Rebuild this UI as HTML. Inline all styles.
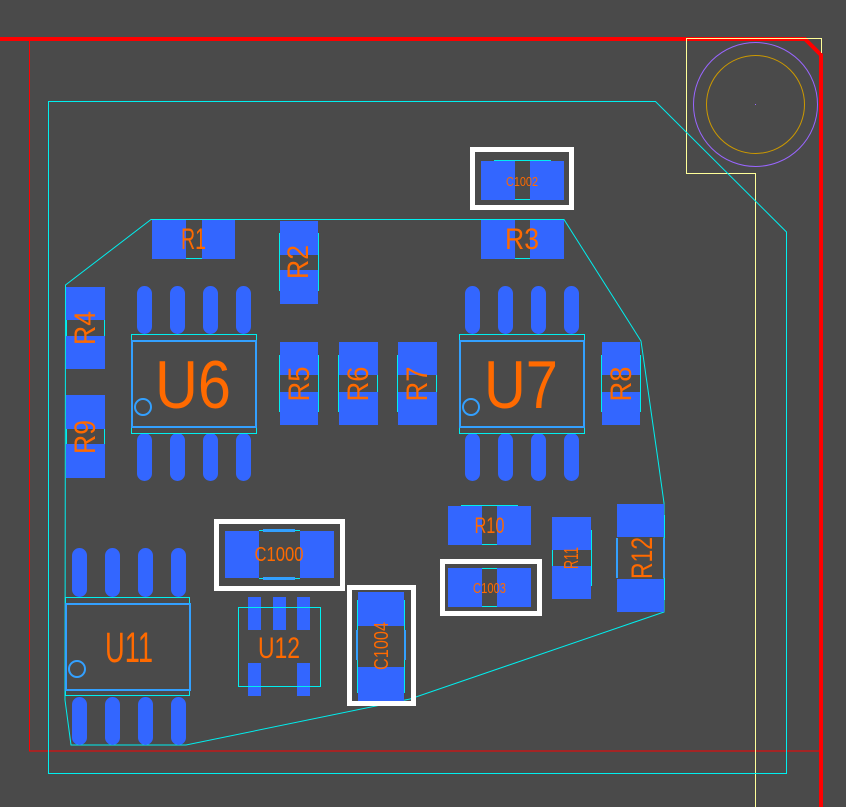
<!DOCTYPE html>
<html><head><meta charset="utf-8"><style>
html,body{margin:0;padding:0;background:#4a4a4a;}
svg{display:block;}
text{font-family:"Liberation Sans",sans-serif;fill:#ff6a00;}
</style></head><body>
<svg width="846" height="807" viewBox="0 0 846 807" xmlns="http://www.w3.org/2000/svg">
<rect width="846" height="807" fill="#4a4a4a"/>
<!-- thin red -->
<polyline points="29.5,41 29.5,751 820,751" fill="none" stroke="#ff0000" stroke-width="1"/>
<!-- thick red board edge -->
<polyline points="0,39 805,39 821,55 821,807" fill="none" stroke="#ff0000" stroke-width="4"/>
<!-- yellow -->
<polyline points="755.5,807 755.5,173.5 686.5,173.5 686.5,38.5 821.5,38.5 821.5,53" fill="none" stroke="#ffff99" stroke-width="1"/>
<circle cx="755.5" cy="104.5" r="62" fill="none" stroke="#9966ff" stroke-width="1"/>
<circle cx="755.5" cy="104.5" r="49" fill="none" stroke="#cc9900" stroke-width="1"/>
<rect x="755" y="104" width="1" height="1" fill="#9966ff"/>
<!-- outer cyan -->
<polygon points="48.5,101.5 655.5,101.5 786.5,232 786.5,773.5 48.5,773.5" fill="none" stroke="#00eeee" stroke-width="1"/>
<!-- inner cyan polygon -->
<polygon points="151,219.5 564,219.5 641,341 658,460 664,503 664,612 410,699 186,745 71,745 65,700 65.5,285" fill="none" stroke="#00eeee" stroke-width="1"/>

<g fill="#3366ff">
<!-- C1002 -->
<rect x="481" y="161" width="34" height="39"/><rect x="530" y="161" width="34" height="39"/>
<!-- R1 -->
<rect x="152" y="220" width="34" height="39"/><rect x="202" y="220" width="33" height="39"/>
<!-- R3 -->
<rect x="481" y="220" width="34" height="39"/><rect x="530" y="220" width="34" height="39"/>
<!-- R2 -->
<rect x="280" y="221" width="38" height="34"/><rect x="280" y="270" width="38" height="34"/>
<!-- R4 -->
<rect x="66" y="287" width="39" height="33"/><rect x="66" y="336" width="39" height="33"/>
<!-- R9 -->
<rect x="66" y="395" width="39" height="34"/><rect x="66" y="444" width="39" height="34"/>
<!-- R5 R6 R7 R8 -->
<rect x="280" y="342" width="38" height="33"/><rect x="280" y="392" width="38" height="33"/>
<rect x="339" y="342" width="39" height="33"/><rect x="339" y="392" width="39" height="33"/>
<rect x="398" y="342" width="39" height="33"/><rect x="398" y="392" width="39" height="33"/>
<rect x="602" y="342" width="38" height="33"/><rect x="602" y="392" width="38" height="33"/>
<!-- U6 pads -->
<rect x="137" y="286" width="15" height="48" rx="7.5"/><rect x="170" y="286" width="15" height="48" rx="7.5"/><rect x="203" y="286" width="15" height="48" rx="7.5"/><rect x="236" y="286" width="15" height="48" rx="7.5"/>
<rect x="137" y="433" width="15" height="48" rx="7.5"/><rect x="170" y="433" width="15" height="48" rx="7.5"/><rect x="203" y="433" width="15" height="48" rx="7.5"/><rect x="236" y="433" width="15" height="48" rx="7.5"/>
<!-- U7 pads -->
<rect x="465" y="286" width="15" height="48" rx="7.5"/><rect x="498" y="286" width="15" height="48" rx="7.5"/><rect x="531" y="286" width="15" height="48" rx="7.5"/><rect x="564" y="286" width="15" height="48" rx="7.5"/>
<rect x="465" y="433" width="15" height="48" rx="7.5"/><rect x="498" y="433" width="15" height="48" rx="7.5"/><rect x="531" y="433" width="15" height="48" rx="7.5"/><rect x="564" y="433" width="15" height="48" rx="7.5"/>
<!-- R10 -->
<rect x="448" y="506" width="34" height="39"/><rect x="497" y="506" width="34" height="39"/>
<!-- C1003 -->
<rect x="448" y="568" width="34" height="39"/><rect x="497" y="568" width="34" height="39"/>
<!-- R11 -->
<rect x="552" y="517" width="39" height="33"/><rect x="552" y="566" width="39" height="33"/>
<!-- R12 -->
<rect x="617" y="504" width="47" height="33"/><rect x="617" y="579" width="47" height="33"/>
<!-- C1000 -->
<rect x="225" y="531" width="34" height="47"/><rect x="300" y="531" width="34" height="47"/>
<!-- C1004 -->
<rect x="358" y="592" width="46" height="34"/><rect x="358" y="667" width="46" height="34"/>
<!-- U11 pads -->
<rect x="72" y="548" width="15" height="49" rx="7.5"/><rect x="105" y="548" width="15" height="49" rx="7.5"/><rect x="138" y="548" width="15" height="49" rx="7.5"/><rect x="171" y="548" width="15" height="49" rx="7.5"/>
<rect x="72" y="697" width="15" height="48" rx="7.5"/><rect x="105" y="697" width="15" height="48" rx="7.5"/><rect x="138" y="697" width="15" height="48" rx="7.5"/><rect x="171" y="697" width="15" height="48" rx="7.5"/>
<!-- U12 pads -->
<rect x="248" y="597" width="13" height="33"/><rect x="273" y="597" width="13" height="33"/><rect x="297" y="597" width="13" height="33"/>
<rect x="248" y="663" width="13" height="33"/><rect x="297" y="663" width="13" height="33"/>
</g>

<!-- cyan component outlines -->
<g fill="none" stroke="#00eeee" stroke-width="1">
<line x1="186" y1="258.5" x2="202" y2="258.5"/>
<line x1="515" y1="258.5" x2="530" y2="258.5"/>
<line x1="494" y1="160.5" x2="551" y2="160.5"/><line x1="515" y1="199.5" x2="530" y2="199.5"/>
<line x1="279.5" y1="233" x2="279.5" y2="291"/><line x1="318.5" y1="233" x2="318.5" y2="291"/>
<line x1="66.5" y1="320" x2="66.5" y2="336"/><line x1="104.5" y1="320" x2="104.5" y2="336"/>
<line x1="66.5" y1="429" x2="66.5" y2="444"/><line x1="104.5" y1="429" x2="104.5" y2="444"/>
<line x1="279.5" y1="355" x2="279.5" y2="412"/><line x1="318.5" y1="355" x2="318.5" y2="412"/>
<line x1="338.5" y1="355" x2="338.5" y2="412"/><line x1="377.5" y1="375" x2="377.5" y2="392"/>
<line x1="397.5" y1="355" x2="397.5" y2="412"/><line x1="436.5" y1="375" x2="436.5" y2="392"/>
<line x1="601.5" y1="355" x2="601.5" y2="412"/><line x1="640.5" y1="355" x2="640.5" y2="412"/>
<rect x="131.5" y="334.5" width="125" height="99"/>
<rect x="459.5" y="334.5" width="125" height="99"/>
<line x1="461" y1="505.5" x2="518" y2="505.5"/><line x1="482" y1="544.5" x2="497" y2="544.5"/>
<line x1="482" y1="568.5" x2="497" y2="568.5"/><line x1="482" y1="606.5" x2="497" y2="606.5"/>
<line x1="591.5" y1="530" x2="591.5" y2="586"/><line x1="552.5" y1="550" x2="552.5" y2="566"/>
<line x1="664.5" y1="515" x2="664.5" y2="600"/>
<rect x="65.5" y="597.5" width="124" height="98"/>
<rect x="238.5" y="607.5" width="82" height="79"/>
<line x1="357.5" y1="600" x2="357.5" y2="693"/><line x1="404.5" y1="600" x2="404.5" y2="693"/>
<line x1="259" y1="530.5" x2="300" y2="530.5"/><line x1="259" y1="578.5" x2="300" y2="578.5"/>
</g>
<g fill="#33a0ff">
<rect x="263" y="529" width="32" height="3"/><rect x="263" y="577" width="32" height="3"/>
<rect x="356" y="630" width="2" height="30"/><rect x="404" y="630" width="2" height="30"/>
<rect x="616" y="538" width="2" height="40"/><rect x="663" y="538" width="2" height="40"/>
</g>
<!-- blue body outlines -->
<g fill="none" stroke="#33a0ff" stroke-width="2">
<rect x="132" y="341" width="124" height="86"/>
<rect x="460" y="341" width="124" height="86"/>
<rect x="66" y="604" width="124" height="86"/>
<circle cx="143" cy="407" r="8"/>
<circle cx="471" cy="407" r="8"/>
<circle cx="77" cy="669" r="8"/>
</g>
<!-- white highlight boxes -->
<g fill="none" stroke="#ffffff" stroke-width="5">
<rect x="472.5" y="149.5" width="99" height="58"/>
<rect x="216.5" y="521.5" width="126" height="67"/>
<rect x="349.5" y="587.5" width="64" height="116"/>
<rect x="442.5" y="561.5" width="97" height="52"/>
</g>

<!-- labels -->
<text x="193.5" y="249" font-size="30" text-anchor="middle" textLength="25" lengthAdjust="spacingAndGlyphs">R1</text>
<text x="522" y="249" font-size="30" text-anchor="middle" textLength="34" lengthAdjust="spacingAndGlyphs">R3</text>
<text x="522" y="186" font-size="13" text-anchor="middle" textLength="32" lengthAdjust="spacingAndGlyphs">C1002</text>
<text x="193" y="408" font-size="68" text-anchor="middle" textLength="76" lengthAdjust="spacingAndGlyphs">U6</text>
<text x="521" y="408" font-size="68" text-anchor="middle" textLength="74" lengthAdjust="spacingAndGlyphs">U7</text>
<text x="129" y="662" font-size="43" text-anchor="middle" textLength="48" lengthAdjust="spacingAndGlyphs">U11</text>
<text x="279" y="658" font-size="30" text-anchor="middle" textLength="42" lengthAdjust="spacingAndGlyphs">U12</text>
<text x="279" y="561" font-size="20" text-anchor="middle" textLength="49" lengthAdjust="spacingAndGlyphs">C1000</text>
<text x="489.5" y="533" font-size="22" text-anchor="middle" textLength="30" lengthAdjust="spacingAndGlyphs">R10</text>
<text x="489.5" y="593" font-size="15" text-anchor="middle" textLength="33" lengthAdjust="spacingAndGlyphs">C1003</text>
<g>
<text transform="translate(308,262) rotate(-90)" font-size="30" text-anchor="middle" textLength="34" lengthAdjust="spacingAndGlyphs">R2</text>
<text transform="translate(95,328) rotate(-90)" font-size="30" text-anchor="middle" textLength="34" lengthAdjust="spacingAndGlyphs">R4</text>
<text transform="translate(95,437) rotate(-90)" font-size="30" text-anchor="middle" textLength="34" lengthAdjust="spacingAndGlyphs">R9</text>
<text transform="translate(309,384) rotate(-90)" font-size="30" text-anchor="middle" textLength="35" lengthAdjust="spacingAndGlyphs">R5</text>
<text transform="translate(368,384) rotate(-90)" font-size="30" text-anchor="middle" textLength="35" lengthAdjust="spacingAndGlyphs">R6</text>
<text transform="translate(427,384) rotate(-90)" font-size="30" text-anchor="middle" textLength="35" lengthAdjust="spacingAndGlyphs">R7</text>
<text transform="translate(631,384) rotate(-90)" font-size="30" text-anchor="middle" textLength="35" lengthAdjust="spacingAndGlyphs">R8</text>
<text transform="translate(578,558) rotate(-90)" font-size="20" text-anchor="middle" textLength="22" lengthAdjust="spacingAndGlyphs">R11</text>
<text transform="translate(652,558) rotate(-90)" font-size="30" text-anchor="middle" textLength="42" lengthAdjust="spacingAndGlyphs">R12</text>
<text transform="translate(388,646) rotate(-90)" font-size="20" text-anchor="middle" textLength="48" lengthAdjust="spacingAndGlyphs">C1004</text>
</g>
</svg>
</body></html>
